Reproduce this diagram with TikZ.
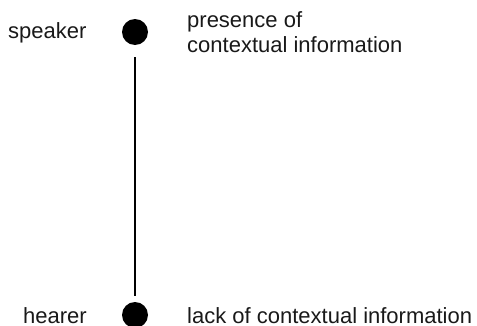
\documentclass[tikz,border=0pt]{standalone}
\usepackage{fontspec}
\setmainfont{Liberation Sans}
\begin{document}
\begin{tikzpicture}[x=1pt,y=1pt,
  dot/.style={circle,fill=black,draw=none,minimum size=26pt,inner sep=0pt},
  lbl/.style={anchor=base west,inner sep=0pt,font=\fontsize{22}{25}\selectfont,text=black!90}]
\useasboundingbox (0,0) rectangle (477,325);
\node[dot] (spk) at (135,293) {};
\node[dot] (hrr) at (135,10) {};
\draw[line width=1.2pt,shorten <=12pt,shorten >=6pt] (spk.south) -- (hrr.north);
\node[lbl] (tspk) at (8,287) {speaker};
\node[lbl] (tpres1) at (187,298) {presence of};
\node[lbl] (tpres2) at (187,273) {contextual information};
\node[lbl] (thrr) at (23,2) {hearer};
\node[lbl] (tlack) at (187,2) {lack of contextual information};
\end{tikzpicture}
\end{document}
